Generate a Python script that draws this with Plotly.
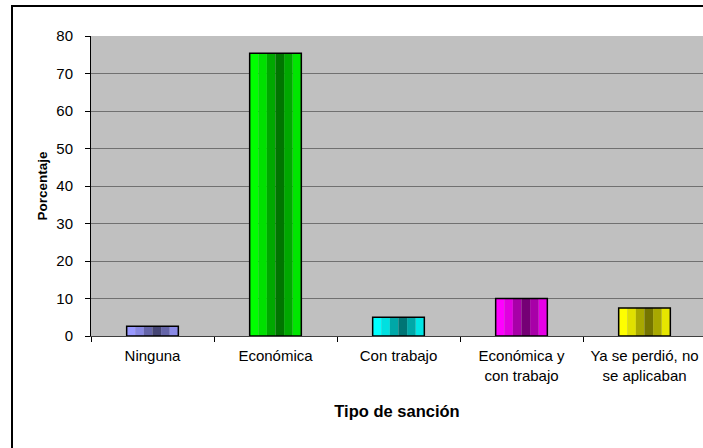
import plotly.graph_objects as go

categories = ["Ninguna", "Económica", "Con trabajo", "Económica y<br>con trabajo", "Ya se perdió, no<br>se aplicaban"]
values = [2.6, 75.4, 5.0, 10.0, 7.5]
base_colors = [(153, 153, 255), (0, 255, 0), (0, 255, 255), (255, 0, 255), (255, 255, 0)]
stripe_factors = [1.0, 0.88, 0.66, 0.46, 0.66, 0.9]
y_ticks = [0, 10, 20, 30, 40, 50, 60, 70, 80]

bar_w = 0.42
n = len(stripe_factors)
sw = bar_w / n

fig = go.Figure()
for k, f in enumerate(stripe_factors):
    cols = ["rgb(%d,%d,%d)" % tuple(int(round(c * f)) for c in bc) for bc in base_colors]
    fig.add_trace(go.Bar(
        x=categories, y=values, width=[sw] * len(values),
        offset=-bar_w / 2 + k * sw,
        marker=dict(color=cols, line=dict(width=0)),
        showlegend=False, hoverinfo="skip"))
fig.add_trace(go.Bar(
    x=categories, y=values, width=[bar_w] * len(values), offset=-bar_w / 2,
    marker=dict(color="rgba(0,0,0,0)", line=dict(color="black", width=1.5)),
    showlegend=False, hovertemplate="%{x}: %{y}<extra></extra>"))

L, T, B = 91, 36, 112
plot_w = 703 - L
plot_h = 448 - T - B
cat_w = 123
x_max = -0.5 + plot_w / cat_w

fig.update_layout(
    width=703, height=448,
    margin=dict(l=L, r=0, t=T, b=B, pad=0),
    paper_bgcolor="white", plot_bgcolor="#C0C0C0",
    barmode="overlay",
    font=dict(family="Liberation Sans, Arial, sans-serif", size=15, color="black"),
    xaxis=dict(
        range=[-0.5, x_max], tickson="boundaries", ticks="outside", ticklen=5,
        tickcolor="black", showline=True, linecolor="#404040", linewidth=1,
        showgrid=False, tickfont=dict(size=15), ticklabelstandoff=6,
        title=dict(text="<b>Tipo de sanción</b>", font=dict(size=16.5), standoff=22)),
    yaxis=dict(
        range=[0, 80], tickvals=y_ticks, ticks="outside", ticklen=5,
        tickcolor="black", showline=True, linecolor="black", linewidth=1,
        showgrid=True, gridcolor="#707070", gridwidth=1, zeroline=False,
        tickfont=dict(size=15), ticklabelstandoff=9,
        title=dict(text="<b>Porcentaje</b>", font=dict(size=13.5), standoff=5)),
)

# outer chart border (left and top edges visible; right and bottom fall outside the window)
px = lambda v: (v - L) / plot_w
py = lambda v: (T + plot_h - v) / plot_h
fig.add_shape(type="rect", xref="paper", yref="paper",
              x0=px(11), x1=px(13), y0=py(470), y1=py(5),
              fillcolor="black", line=dict(width=0), layer="above")
fig.add_shape(type="rect", xref="paper", yref="paper",
              x0=px(11), x1=px(703), y0=py(7), y1=py(5),
              fillcolor="#000000", line=dict(width=0), layer="above")

fig.write_html("out.html", config={"displayModeBar": False},
               post_script="document.body.style.margin='0';")
